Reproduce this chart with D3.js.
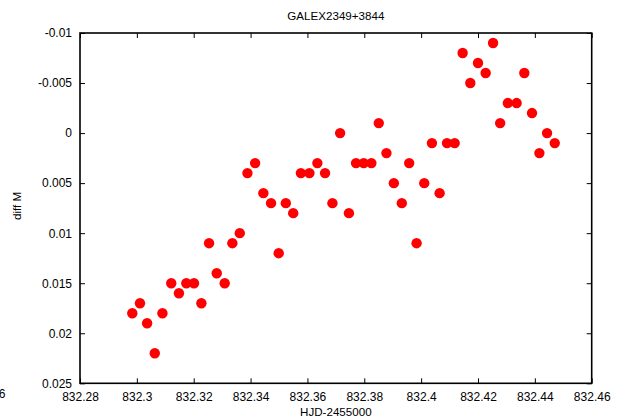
<!DOCTYPE html>
<html>
<head>
<meta charset="utf-8">
<script src="https://cdn.jsdelivr.net/npm/d3@7"></script>
<style>
  html, body { margin: 0; padding: 0; background: #fff; }
  svg text { font-family: "Liberation Sans", Arial, sans-serif; fill: #000; }
</style>
</head>
<body>
<svg id="chart" width="628" height="419"></svg>
<script>
// Light curve of GALEX2349+3844: differential magnitude vs. heliocentric JD
const titleText = "GALEX2349+3844";
const xLabel = "HJD-2455000";
const yLabel = "diff M";

const hjd = [
  832.2984, 832.3011, 832.3036, 832.3063, 832.3090, 832.3121, 832.3148, 832.3174,
  832.3201, 832.3227, 832.3254, 832.3281, 832.3309, 832.3336, 832.3362, 832.3389,
  832.3416, 832.3445, 832.3472, 832.3499, 832.3524, 832.3550, 832.3577, 832.3607,
  832.3635, 832.3662, 832.3688, 832.3715, 832.3746, 832.3771, 832.3798, 832.3825,
  832.3851, 832.3878, 832.3904, 832.3932, 832.3958, 832.3984, 832.4011, 832.4038,
  832.4065, 832.4091, 832.4118, 832.4146, 832.4173, 832.4200, 832.4227, 832.4253,
  832.4278, 832.4305, 832.4336, 832.4363, 832.4390, 832.4416, 832.4443, 832.4470
];
const diffM = [
  0.018, 0.017, 0.019, 0.022, 0.018, 0.015, 0.016, 0.015,
  0.015, 0.017, 0.011, 0.014, 0.015, 0.011, 0.010, 0.004,
  0.003, 0.006, 0.007, 0.012, 0.007, 0.008, 0.004, 0.004,
  0.003, 0.004, 0.007, 0.000, 0.008, 0.003, 0.003, 0.003,
  -0.001, 0.002, 0.005, 0.007, 0.003, 0.011, 0.005, 0.001,
  0.006, 0.001, 0.001, -0.008, -0.005, -0.007, -0.006, -0.009,
  -0.001, -0.003, -0.003, -0.006, -0.002, 0.002, 0.000, 0.001
];

const xTicks = [832.28, 832.30, 832.32, 832.34, 832.36, 832.38, 832.40, 832.42, 832.44, 832.46];
const xTickLabels = ["832.28", "832.3", "832.32", "832.34", "832.36", "832.38", "832.4", "832.42", "832.44", "832.46"];
const yTicks = [-0.01, -0.005, 0, 0.005, 0.01, 0.015, 0.02, 0.025];
const yTickLabels = ["-0.01", "-0.005", "0", "0.005", "0.01", "0.015", "0.02", "0.025"];

const svg = d3.select("#chart");
const plotL = 80, plotR = 591.7, plotT = 33, plotB = 383.3;

const x = d3.scaleLinear().domain([832.28, 832.46]).range([plotL, plotR]);
// magnitudes: brighter (more negative) at the top
const y = d3.scaleLinear().domain([-0.01, 0.025]).range([plotT, plotB]);

const tickLen = 5;
const fmtX = d => xTickLabels[xTicks.indexOf(d)];
const fmtY = d => yTickLabels[yTicks.indexOf(d)];

// bottom axis with inward ticks
const gB = svg.append("g").attr("transform", `translate(0,${plotB})`)
  .call(d3.axisBottom(x).tickValues(xTicks).tickFormat(fmtX).tickSize(-tickLen).tickPadding(9));
// top axis, ticks only
const gT = svg.append("g").attr("transform", `translate(0,${plotT})`)
  .call(d3.axisTop(x).tickValues(xTicks).tickFormat("").tickSize(-tickLen));
// left axis with inward ticks
const gL = svg.append("g").attr("transform", `translate(${plotL},0)`)
  .call(d3.axisLeft(y).tickValues(yTicks).tickFormat(fmtY).tickSize(-tickLen).tickPadding(8));
// right axis, ticks only
const gR = svg.append("g").attr("transform", `translate(${plotR},0)`)
  .call(d3.axisRight(y).tickValues(yTicks).tickFormat("").tickSize(-tickLen));

[gB, gT, gL, gR].forEach(g => {
  g.select(".domain").remove();
  g.selectAll(".tick line").attr("stroke", "#000").attr("stroke-width", 1);
  g.selectAll(".tick text").attr("font-size", 12).attr("fill", "#000")
    .style("font-family", '"Liberation Sans", Arial, sans-serif');
});

// frame
svg.append("rect")
  .attr("x", plotL).attr("y", plotT)
  .attr("width", plotR - plotL).attr("height", plotB - plotT)
  .attr("fill", "none").attr("stroke", "#000").attr("stroke-width", 1.6);

// data points
svg.append("g").selectAll("circle")
  .data(hjd.map((t, i) => [t, diffM[i]]))
  .join("circle")
  .attr("cx", d => x(d[0]))
  .attr("cy", d => y(d[1]))
  .attr("r", 5.2)
  .attr("fill", "#ff0000");

// title and axis labels
svg.append("text").attr("x", (plotL + plotR) / 2).attr("y", 20)
  .attr("text-anchor", "middle").attr("font-size", 11.6).text(titleText);
svg.append("text").attr("x", (plotL + plotR) / 2).attr("y", 416)
  .attr("text-anchor", "middle").attr("font-size", 11.6).text(xLabel);
svg.append("text")
  .attr("transform", `translate(21,206) rotate(-90)`)
  .attr("text-anchor", "middle").attr("font-size", 11.6).text(yLabel);

// clipped label at the lower-left edge
svg.append("text").attr("x", 5.5).attr("y", 398)
  .attr("text-anchor", "end").attr("font-size", 12).text("832.26");
</script>
</body>
</html>
